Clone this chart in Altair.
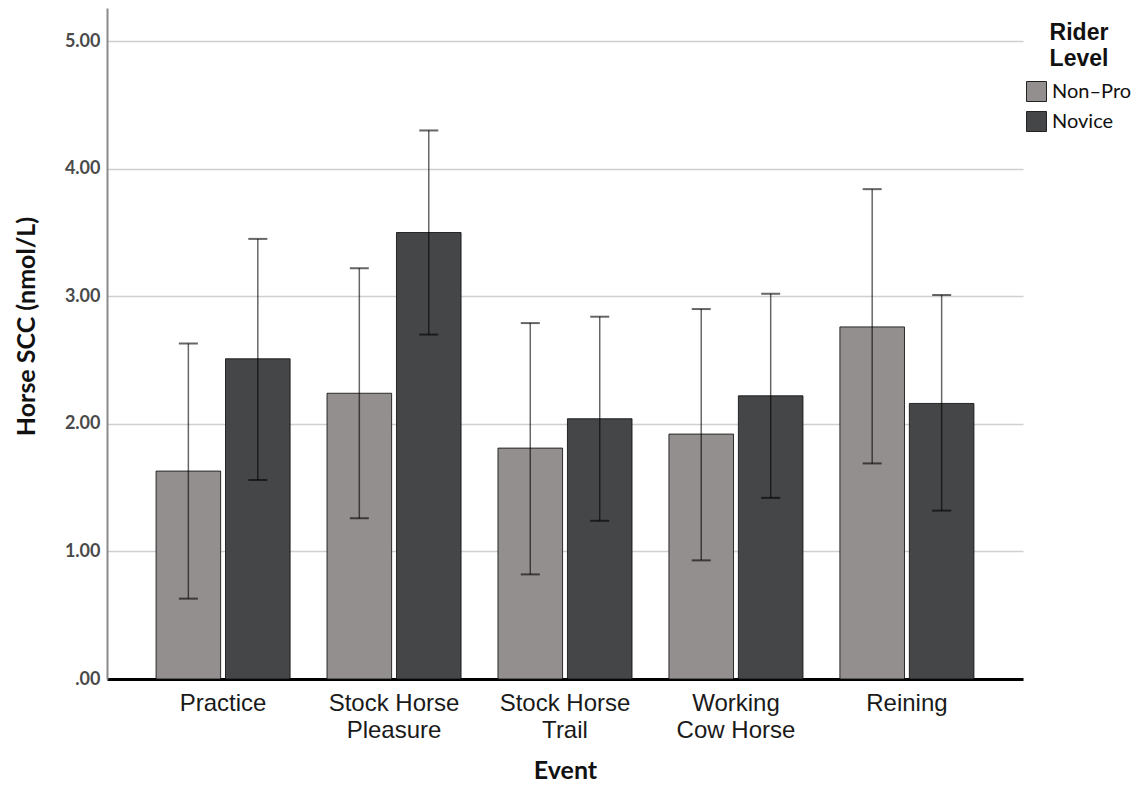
import altair as alt
import pandas as pd

events = ["Practice", "Stock Horse|Pleasure", "Stock Horse|Trail", "Working|Cow Horse", "Reining"]
levels = ["Non\u2013Pro", "Novice"]
nonpro_mean = [1.63, 2.24, 1.81, 1.92, 2.76]
nonpro_lo = [0.63, 1.26, 0.82, 0.93, 1.69]
nonpro_hi = [2.63, 3.22, 2.79, 2.90, 3.84]
novice_mean = [2.51, 3.50, 2.04, 2.22, 2.16]
novice_lo = [1.56, 2.70, 1.24, 1.42, 1.32]
novice_hi = [3.45, 4.30, 2.84, 3.02, 3.01]
y_ticks = [0, 1, 2, 3, 4, 5]

rows = []
for i, e in enumerate(events):
    rows.append({"event": e, "level": levels[0], "mean": nonpro_mean[i], "lo": nonpro_lo[i], "hi": nonpro_hi[i]})
    rows.append({"event": e, "level": levels[1], "mean": novice_mean[i], "lo": novice_lo[i], "hi": novice_hi[i]})
df = pd.DataFrame(rows)

FONT = "Lato"
FONT2 = "Liberation Sans"

x_enc = alt.X("event:N", sort=events,
              scale=alt.Scale(paddingInner=0.216, paddingOuter=0.287),
              axis=alt.Axis(title="Event", labelAngle=0,
                            labelExpr="split(datum.label, '|')",
                            labelFont=FONT2, labelFontSize=24,
                            labelColor="#1a1a1a", labelLineHeight=27, labelPadding=12,
                            ticks=False, domainColor="#000", domainWidth=3,
                            titleFont=FONT, titleFontSize=25,
                            titleFontWeight="bold", titleColor="#111",
                            titleY=99, titleBaseline="alphabetic"))
xo = alt.XOffset("level:N", sort=levels, scale=alt.Scale(paddingInner=0.07))
yscale = alt.Scale(domain=[0, 5.26], nice=False)

bars = alt.Chart(df).mark_bar(stroke="#111", strokeWidth=1, strokeOpacity=0.85).encode(
    x=x_enc,
    xOffset=xo,
    y=alt.Y("mean:Q", scale=yscale,
            axis=alt.Axis(title="Horse SCC (nmol/L)", values=y_ticks,
                          labelExpr="datum.value == 0 ? '.00' : format(datum.value, '.2f')",
                          labelFont=FONT, labelFontSize=18, labelFontWeight="bold",
                          labelColor="#4a4a4a", labelPadding=7, ticks=False,
                          domainColor="#8a8a8a", domainWidth=2,
                          gridColor="#d0d0d0", gridWidth=1.5,
                          titleFont=FONT, titleFontSize=25, titleFontWeight="bold",
                          titleColor="#111", titleX=-73, titleY=318,
                          titleBaseline="alphabetic", titleAlign="center")),
    color=alt.Color("level:N", sort=levels,
                    scale=alt.Scale(domain=levels, range=["#938f8e", "#454648"]),
                    legend=alt.Legend(title=["Rider", "Level"], orient="none",
                                      legendX=919, legendY=14,
                                      titleFont=FONT2, titleFontSize=23,
                                      titleFontWeight="bold", titleColor="#111",
                                      titleLineHeight=26, titlePadding=10,
                                      titleAnchor="middle",
                                      labelFont=FONT, labelFontSize=20,
                                      labelColor="#111", labelOffset=5,
                                      symbolType="square", symbolSize=400,
                                      symbolStrokeColor="#222", symbolStrokeWidth=1,
                                      rowPadding=5)),
)

rules = alt.Chart(df).mark_rule(color="#000", opacity=0.6, strokeWidth=1.5).encode(
    x=alt.X("event:N", sort=events), xOffset=xo,
    y=alt.Y("lo:Q", scale=yscale), y2="hi:Q",
)
caps_hi = alt.Chart(df).mark_tick(orient="horizontal", size=19, thickness=2, color="#000", opacity=0.6).encode(
    x=alt.X("event:N", sort=events), xOffset=xo,
    y=alt.Y("hi:Q", scale=yscale),
)
caps_lo = alt.Chart(df).mark_tick(orient="horizontal", size=19, thickness=2, color="#000", opacity=0.6).encode(
    x=alt.X("event:N", sort=events), xOffset=xo,
    y=alt.Y("lo:Q", scale=yscale),
)

chart = alt.layer(bars, rules, caps_hi, caps_lo).properties(
    width=916, height=671,
    autosize=alt.AutoSizeParams(type="none"),
    padding={"left": 99, "top": 0, "right": 113, "bottom": 106},
).configure_view(stroke=None)

chart.save("out.html", embed_options={"renderer": "svg", "actions": False})
